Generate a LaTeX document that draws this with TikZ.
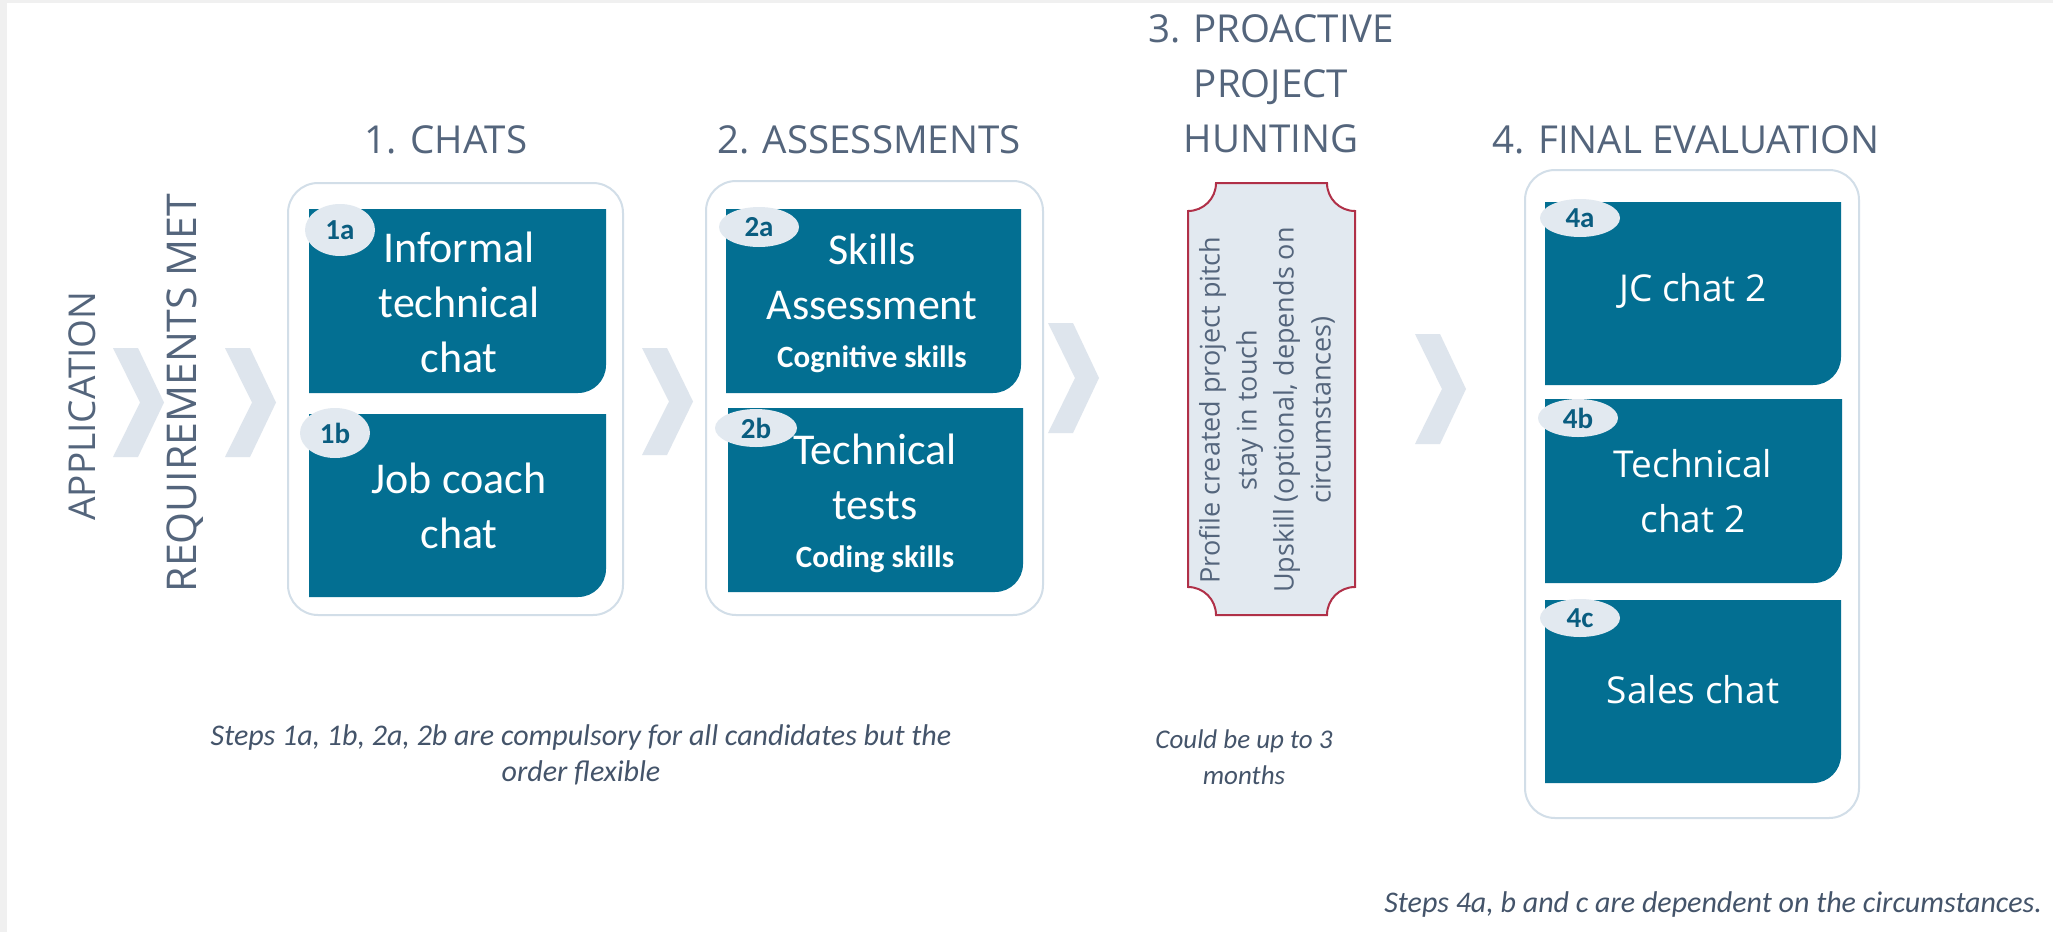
\documentclass[tikz,border=0pt]{standalone}
\usepackage{fontspec}
\setmainfont{Carlito}
\newfontfamily\osans{Open Sans}
\usetikzlibrary{shapes.geometric}
\definecolor{tealbox}{RGB}{3,111,146}
\definecolor{chevc}{RGB}{222,229,237}
\definecolor{hdrc}{RGB}{84,101,124}
\definecolor{capc}{RGB}{68,84,106}
\definecolor{frameb}{RGB}{210,222,232}
\definecolor{ellf}{RGB}{226,233,240}
\definecolor{elltext}{RGB}{10,93,128}
\definecolor{plaqueb}{RGB}{176,48,72}
\definecolor{bordergray}{RGB}{240,240,240}
\newcommand\chevr[3]{\fill[chevc] (#1,#2) -- ({#1+25},#2) -- ({#1+51},{(#2+#3)/2}) -- ({#1+25},#3) -- (#1,#3) -- ({#1+27},{(#2+#3)/2}) -- cycle;}
\newcommand\tbox[4]{\fill[tealbox] (#1,#2) -- (#3,#2) -- (#3,{#4-28}) .. controls (#3,{#4-12.5}) and ({#3-12.5},#4) .. ({#3-28},#4) -- (#1,#4) -- cycle;}
\begin{document}
\begin{tikzpicture}[x=1pt,y=-1pt,
  hdrtext/.style={font=\osans\fontsize{38.5}{55}\selectfont, text=hdrc, align=center, inner sep=0},
  frame/.style={draw=frameb, line width=2pt, fill=white, rounded corners=30pt},
  boxtxt/.style={font=\fontsize{44}{55}\selectfont, text=white, align=center, inner sep=0},
  boxtxtb/.style={font=\osans\fontsize{37}{55}\selectfont, text=white, align=center, inner sep=0},
  badge/.style={ellipse, fill=ellf, font=\bfseries\fontsize{29}{30}\selectfont, text=elltext, inner sep=0},
  capt/.style={font=\itshape\fontsize{30}{36}\selectfont, text=capc, align=center, inner sep=0},
  plaquetxt/.style={font=\osans\fontsize{27}{37}\selectfont, text=hdrc, align=center, inner sep=0}
]
\useasboundingbox (0,0) rectangle (2053,932);
\fill[bordergray] (0,0) rectangle (2053,932);
\fill[white] (7,3) rectangle (2053,932);

% rotated labels
\node[hdrtext, font=\osans\fontsize{37}{55}\selectfont, rotate=90] (app) at (82,406) {APPLICATION};
\node[hdrtext, font=\osans\fontsize{41}{55}\selectfont, rotate=90] (req) at (185,393) {REQUIREMENTS MET};

% chevrons
\chevr{113}{348}{457}
\chevr{225}{348}{457}
\chevr{642}{348}{455}
\chevr{1048}{323}{433}
\chevr{1415}{334}{444}

% headers
\node[hdrtext, anchor=south] (h1) at (446,154) {1. CHATS};
\node[hdrtext, anchor=south] (h2) at (869,154) {2. ASSESSMENTS};
\node[hdrtext, anchor=south] (h3) at (1271,153) {3. PROACTIVE\\PROJECT\\HUNTING};
\node[hdrtext, anchor=south] (h4) at (1686,154) {4. FINAL EVALUATION};

% frames
\draw[frame] (288,183) rectangle (623,615);
\draw[frame] (706,181) rectangle (1043,615);
\draw[frame] (1525,170) rectangle (1859,818);

% stage 1
\tbox{309}{209}{606}{393}
\tbox{309}{414}{606}{597}
\node[boxtxt] (b1a) at (459,302) {Informal\\technical\\chat};
\node[boxtxt] (b1b) at (459,506) {Job coach\\chat};
\node[badge, minimum width=70pt, minimum height=52pt] (e1a) at (340,230) {1a};
\node[badge, minimum width=70pt, minimum height=50pt] (e1b) at (335,433) {1b};

% stage 2
\tbox{726}{209}{1021}{393}
\tbox{728}{408}{1023}{592}
\node[boxtxt] (b2a) at (872,303) {Skills\\Assessment\\[-7pt]{\bfseries\fontsize{31}{40}\selectfont Cognitive skills}};
\node[boxtxt] (b2b) at (875,503) {Technical\\tests\\[-7pt]{\bfseries\fontsize{31}{40}\selectfont Coding skills}};
\node[badge, minimum width=80pt, minimum height=40pt] (e2a) at (759,227) {2a};
\node[badge, minimum width=82pt, minimum height=38pt] (e2b) at (756,428) {2b};

% stage 3
\filldraw[fill=ellf, draw=plaqueb, line width=2pt]
  (1216,183) -- (1327,183) .. controls (1327,198.5) and (1339.5,211) .. (1355,211)
  -- (1355,587) .. controls (1339.5,587) and (1327,599.5) .. (1327,615)
  -- (1216,615) .. controls (1216,599.5) and (1203.5,587) .. (1188,587)
  -- (1188,211) .. controls (1203.5,211) and (1216,198.5) .. (1216,183) -- cycle;
\node[plaquetxt, rotate=90] (p3) at (1267,410) {Profile created project pitch\\stay in touch\\Upskill (optional, depends on\\circumstances)};

% stage 4
\tbox{1545}{202}{1841}{385}
\tbox{1545}{399}{1842}{583}
\tbox{1545}{600}{1841}{783}
\node[boxtxtb] (b4a) at (1693,291) {JC chat 2};
\node[boxtxtb] (b4b) at (1693,491) {Technical\\chat 2};
\node[boxtxtb] (b4c) at (1693,690) {Sales chat};
\node[badge, minimum width=80pt, minimum height=38pt] (e4a) at (1580,218) {4a};
\node[badge, minimum width=80pt, minimum height=38pt] (e4b) at (1578,418) {4b};
\node[badge, minimum width=80pt, minimum height=38pt] (e4c) at (1580,618) {4c};

% captions
\node[capt] (c12) at (581,755) {Steps 1a, 1b, 2a, 2b are compulsory for all candidates but the\\order flexible};
\node[capt, font=\itshape\fontsize{27}{36}\selectfont] (c3) at (1244,757) {Could be up to 3\\months};
\node[capt, anchor=east] (c4) at (2042,904) {Steps 4a, b and c are dependent on the circumstances.};
\end{tikzpicture}
\end{document}
